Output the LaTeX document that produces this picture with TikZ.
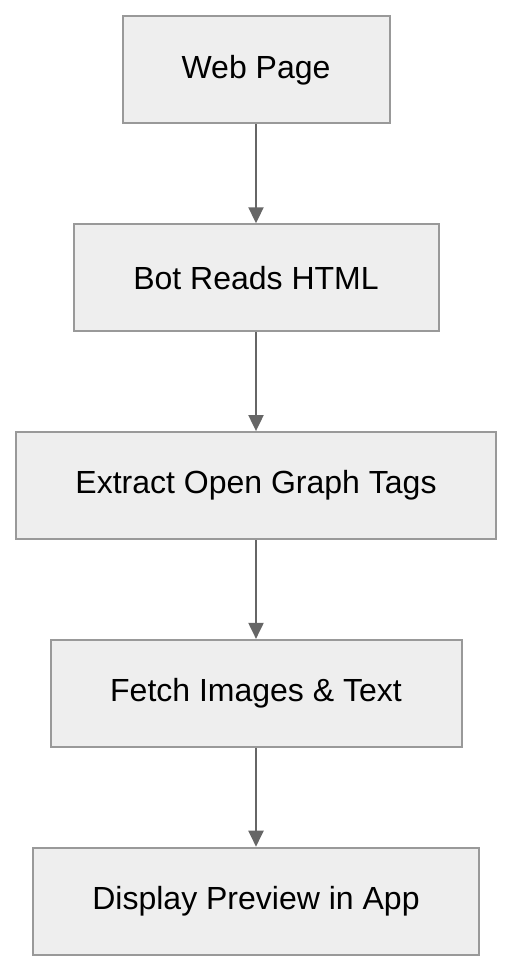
\documentclass[tikz,border=0pt]{standalone}
\usepackage{fontspec}
\setmainfont{Liberation Sans}
\usetikzlibrary{arrows.meta, positioning}
\definecolor{boxfill}{HTML}{EEEEEE}
\definecolor{boxline}{HTML}{999999}
\definecolor{arrowgray}{HTML}{666666}

\begin{document}
\begin{tikzpicture}[
    node distance=49.4pt,
    stage/.style={rectangle, draw=boxline, line width=1pt, fill=boxfill, minimum height=53.5pt, font=\fontsize{16pt}{19pt}\selectfont},
    arrow/.style={-{Triangle[width=7.5pt,length=8pt]}, draw=arrowgray, fill=arrowgray, line width=1pt}
]
    \useasboundingbox (0,0) rectangle (256pt,-486pt);

    % Stages
    \node[stage, minimum width=133.5pt] (page) at (128pt,-35pt) {Web Page};
    \node[stage, minimum width=182.5pt, below=of page] (bot) {Bot Reads HTML};
    \node[stage, minimum width=240pt, below=of bot] (extract) {Extract Open Graph Tags};
    \node[stage, minimum width=205.5pt, below=of extract] (fetch) {Fetch Images \& Text};
    \node[stage, minimum width=223pt, below=of fetch] (display) {Display Preview in App};

    % Connectors
    \draw[arrow] (page) -- (bot);
    \draw[arrow] (bot) -- (extract);
    \draw[arrow] (extract) -- (fetch);
    \draw[arrow] (fetch) -- (display);
\end{tikzpicture}
\end{document}
